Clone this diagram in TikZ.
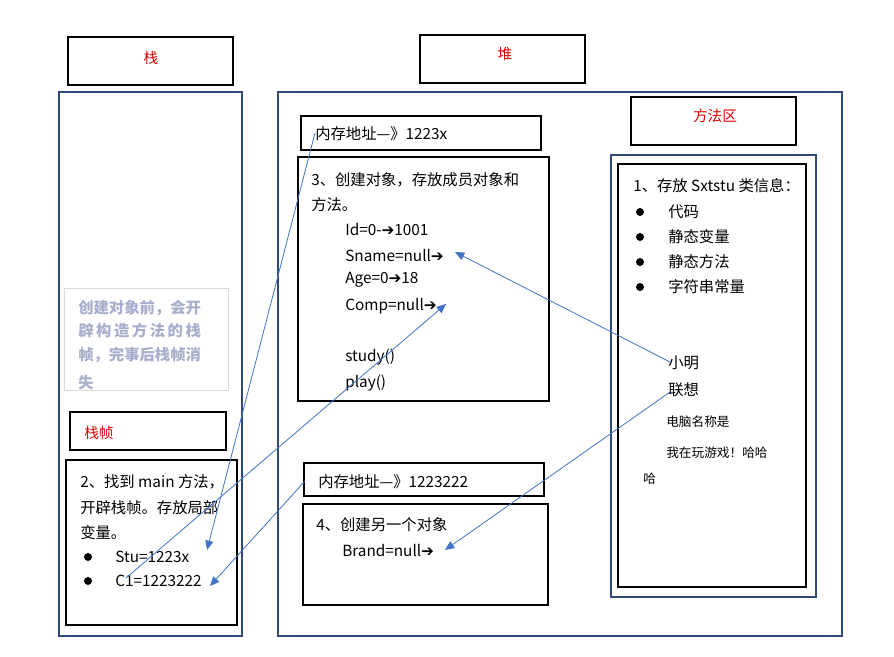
\documentclass[tikz,border=0pt]{standalone}
\usepackage{fontspec}
\setmainfont{Liberation Sans}
\newfontfamily\cjk{Noto Sans CJK SC}
\newfontfamily\dvs{DejaVu Sans}
\usetikzlibrary{arrows.meta}
\definecolor{frame}{HTML}{2F4A7A}
\definecolor{arr}{HTML}{4472C4}
\definecolor{ttl}{HTML}{E00000}
\definecolor{note}{HTML}{A8AECB}
\tikzset{
 blk/.style={draw=black,line width=0.8pt},
 blu/.style={draw=frame,line width=1.5pt},
 txt/.style={anchor=west,inner sep=0pt,font=\cjk\fontsize{11.5}{13}\selectfont},
 sml/.style={anchor=west,inner sep=0pt,font=\cjk\fontsize{9.5}{11}\selectfont},
 red/.style={anchor=center,inner sep=0pt,text=ttl,font=\cjk\fontsize{11}{13}\selectfont},
 con/.style={draw=arr,line width=0.6pt,-{Triangle[length=7pt,width=6pt]}},
 dot/.style={circle,fill=black,inner sep=0pt,minimum size=6pt}
}
\newcommand{\ar}{{\dvs\bfseries ➔}}
\begin{document}
\begin{tikzpicture}[x=0.75pt,y=-0.75pt]
\useasboundingbox (0,0) rectangle (894,657);
\fill[white] (0,0) rectangle (894,657);
% outer frames
\draw[blu] (59,92) rectangle (242,636);
\draw[blu] (278,92) rectangle (842,636);
\draw[blu] (611,155) rectangle (816,597);
% title boxes
\draw[blk] (68,37) rectangle (233,85); \node[red] (tz) at (151,58) {栈};
\draw[blk] (420,35) rectangle (585,83); \node[red] (td) at (505,54) {堆};
\draw[blk] (631,97) rectangle (796,145); \node[red] (tf) at (715,116) {方法区};
\draw[blk] (70,412) rectangle (226,450); \node[red,anchor=west] (tzz) at (84,433) {栈帧};
% gray note
\draw[draw=gray!30,line width=0.6pt] (64,288) rectangle (228,390);
\begin{scope}
\clip (64,288) rectangle (228,390);
\tikzset{gt/.style={anchor=west,inner sep=0pt,text=note,font=\cjk\bfseries\fontsize{11.5}{13}\selectfont}}
\node[gt] (g1) at (78,308) {创建对象前，会开};
\node[gt] (g2) at (78,331) {辟\,构\,造\,方\,法\,的\,栈};
\node[gt] (g3) at (78,355) {帧，完事后栈帧消};
\node[gt] (g4) at (78,383) {失};
\end{scope}
% box 2
\draw[blk] (66,460) rectangle (237,625);
\node[txt] (b21) at (80,482) {2、找到 main 方法，};
\node[txt] (b22) at (80,508) {开辟栈帧。存放局部};
\node[txt] (b23) at (80,533) {变量。};
\node[dot] at (88,557) {}; \node[txt] (stu) at (115,557) {Stu=1223x};
\node[dot] at (88,581) {}; \node[txt] (c1) at (115,581) {C1=1223222};
% heap
\draw[blk] (301,116) rectangle (541,150);
\node[txt] (addr1) at (315,134) {内存地址—》1223x};
\draw[blk] (298,157) rectangle (549,401);
\node[txt] (h1) at (311,180) {3、创建对象，存放成员对象和};
\node[txt] (h2) at (311,205) {方法。};
\node[txt] (id) at (345,229) {Id=0-\ar1001};
\node[txt] (sn) at (345,255) {Sname=null\ar};
\node[txt] (ag) at (345,280) {Age=0\ar18};
\node[txt] (cp) at (345,306) {Comp=null\ar};
\node[txt] (st) at (345,357) {study()};
\node[txt] (pl) at (345,383) {play()};
\draw[blk] (304,463) rectangle (544,496);
\node[txt] (addr2) at (318,482) {内存地址—》1223222};
\draw[blk] (303,504) rectangle (548,605);
\node[txt] (h4) at (316,525) {4、创建另一个对象};
\node[txt] (br) at (342,550) {Brand=null\ar};
% method area
\draw[blk] (618,164) rectangle (806,587);
\node[txt] (m0) at (633,186) {1、存放 Sxtstu 类信息：};
\node[dot] at (640,212) {}; \node[txt] (m1) at (668,212) {代码};
\node[dot] at (640,237) {}; \node[txt] (m2) at (668,237) {静态变量};
\node[dot] at (640,262) {}; \node[txt] (m3) at (668,262) {静态方法};
\node[dot] at (640,287) {}; \node[txt] (m4) at (668,287) {字符串常量};
\node[txt] (xm) at (668,363) {小明};
\node[txt] (lx) at (668,390) {联想};
\node[sml] (dn) at (666,422) {电脑名称是};
\node[sml] (wz) at (666,453) {我在玩游戏！哈哈};
\node[sml] (hh) at (643,479) {哈};
% connector endpoints
\coordinate (p1) at (315,133); \coordinate (q1) at (207,550);
\coordinate (p2) at (126,578); \coordinate (q2) at (446,304);
\coordinate (p3) at (305,481); \coordinate (q3) at (210,586);
\coordinate (p4) at (670,362); \coordinate (q4) at (455,252);
\coordinate (p5) at (670,392); \coordinate (q5) at (445,550);
\draw[con] (p1) -- (q1);
\draw[con] (p2) -- (q2);
\draw[con] (p3) -- (q3);
\draw[con] (p4) -- (q4);
\draw[con] (p5) -- (q5);
\end{tikzpicture}
\end{document}
